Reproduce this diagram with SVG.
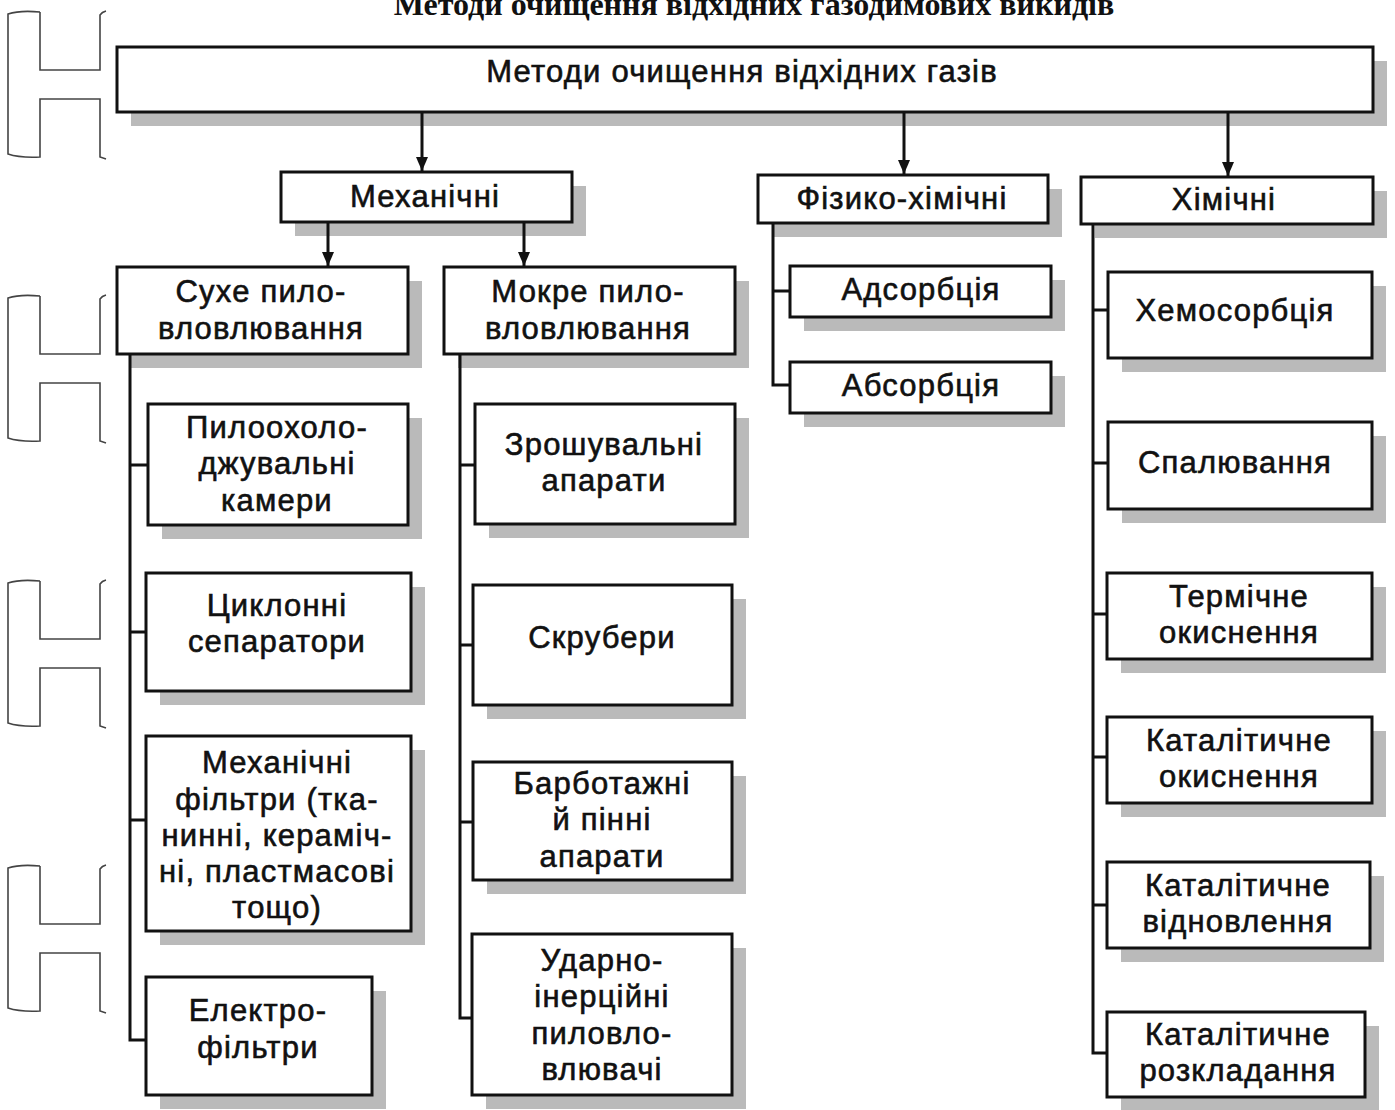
<svg xmlns="http://www.w3.org/2000/svg" width="1395" height="1110" viewBox="0 0 1395 1110">
<defs>
<style>
.box{fill:#fff;stroke:#111;stroke-width:3}
.sh{fill:#bababa}
.t{font-family:"Liberation Sans",Arial,sans-serif;font-size:31px;letter-spacing:1.2px;fill:#111;stroke:#111;stroke-width:0.6;text-anchor:middle}
.title{font-family:"Liberation Serif","Times New Roman",serif;font-size:32px;font-weight:bold;fill:#111;text-anchor:middle}
.ln{fill:none;stroke:#111;stroke-width:3}
.bm{fill:none;stroke:#444;stroke-width:1.6}
</style>
<marker id="arr" viewBox="0 0 14 12" refX="14" refY="6" markerWidth="14" markerHeight="12" markerUnits="userSpaceOnUse" orient="auto">
<path d="M0,0 L14,6 L0,12 Z" fill="#111"/>
</marker>
<g id="bmark">
<path d="M40,0 Q20,-2 8,2 L8,142 Q20,146 40,145 L40,87 L100,87 L100,145 Q103,146 106,147"/>
<path d="M40,0 L40,58 L100,58 L100,3 Q102,0 106,-1"/>
</g>
</defs>
<rect width="1395" height="1110" fill="#fff"/>

<text class="title" x="754" y="15">Методи очищення відхідних газодимових викидів</text>

<g id="binding-marks" class="bm">
<use href="#bmark" x="0" y="12"/>
<use href="#bmark" x="0" y="296"/>
<use href="#bmark" x="0" y="581"/>
<use href="#bmark" x="0" y="866"/>
</g>

<g id="shadows">
<rect class="sh" x="131" y="61" width="1256" height="65"/>
<rect class="sh" x="295" y="186" width="291" height="50"/>
<rect class="sh" x="772" y="189" width="290" height="48"/>
<rect class="sh" x="1095" y="191" width="292" height="47"/>
<rect class="sh" x="131" y="281" width="291" height="87"/>
<rect class="sh" x="458" y="281" width="291" height="87"/>
<rect class="sh" x="804" y="280" width="261" height="51"/>
<rect class="sh" x="804" y="376" width="261" height="51"/>
<rect class="sh" x="1122" y="286" width="264" height="86"/>
<rect class="sh" x="1122" y="436" width="264" height="87"/>
<rect class="sh" x="1121" y="587" width="265" height="86"/>
<rect class="sh" x="1121" y="731" width="265" height="86"/>
<rect class="sh" x="1121" y="876" width="263" height="86"/>
<rect class="sh" x="1121" y="1026" width="258" height="84"/>
<rect class="sh" x="162" y="418" width="260" height="121"/>
<rect class="sh" x="160" y="587" width="265" height="118"/>
<rect class="sh" x="160" y="750" width="265" height="195"/>
<rect class="sh" x="160" y="991" width="226" height="118"/>
<rect class="sh" x="489" y="418" width="260" height="120"/>
<rect class="sh" x="487" y="599" width="259" height="120"/>
<rect class="sh" x="487" y="776" width="259" height="118"/>
<rect class="sh" x="486" y="948" width="260" height="161"/>
</g>

<g id="connectors" class="ln">
<line x1="422" y1="112" x2="422" y2="171" marker-end="url(#arr)"/>
<line x1="904" y1="112" x2="904" y2="174" marker-end="url(#arr)"/>
<line x1="1228" y1="112" x2="1228" y2="176" marker-end="url(#arr)"/>
<line x1="328" y1="222" x2="328" y2="266" marker-end="url(#arr)"/>
<line x1="524" y1="222" x2="524" y2="266" marker-end="url(#arr)"/>
<path d="M130,354 L130,1040 L146,1040 M130,465 L148,465 M130,632 L146,632 M130,820 L146,820"/>
<path d="M460,354 L460,1018 L472,1018 M460,465 L475,465 M460,645 L473,645 M460,822 L473,822"/>
<path d="M773,224 L773,385 L790,385 M773,291 L790,291"/>
<path d="M1093,224 L1093,1053 L1107,1053 M1093,310 L1108,310 M1093,463 L1108,463 M1093,614 L1107,614 M1093,757 L1107,757 M1093,905 L1107,905"/>
</g>

<g id="n-root"><rect class="box" x="117" y="47" width="1256" height="65"/><text class="t" x="742" y="82">Методи очищення відхідних газів</text></g>
<g id="n-mech"><rect class="box" x="281" y="172" width="291" height="50"/><text class="t" x="425" y="207">Механічні</text></g>
<g id="n-phys"><rect class="box" x="758" y="175" width="290" height="48"/><text class="t" x="902" y="209">Фізико-хімічні</text></g>
<g id="n-chem"><rect class="box" x="1081" y="177" width="292" height="47"/><text class="t" x="1224" y="210">Хімічні</text></g>
<g id="n-dry"><rect class="box" x="117" y="267" width="291" height="87"/><text class="t" x="261" y="302">Сухе пило-</text><text class="t" x="261" y="339">вловлювання</text></g>
<g id="n-wet"><rect class="box" x="444" y="267" width="291" height="87"/><text class="t" x="588" y="302">Мокре пило-</text><text class="t" x="588" y="339">вловлювання</text></g>
<g id="n-ads"><rect class="box" x="790" y="266" width="261" height="51"/><text class="t" x="921" y="300">Адсорбція</text></g>
<g id="n-abs"><rect class="box" x="790" y="362" width="261" height="51"/><text class="t" x="921" y="396">Абсорбція</text></g>
<g id="n-chemo"><rect class="box" x="1108" y="272" width="264" height="86"/><text class="t" x="1235" y="321">Хемосорбція</text></g>
<g id="n-burn"><rect class="box" x="1108" y="422" width="264" height="87"/><text class="t" x="1235" y="473">Спалювання</text></g>
<g id="n-therm"><rect class="box" x="1107" y="573" width="265" height="86"/><text class="t" x="1239" y="607">Термічне</text><text class="t" x="1239" y="643">окиснення</text></g>
<g id="n-catox"><rect class="box" x="1107" y="717" width="265" height="86"/><text class="t" x="1239" y="751">Каталітичне</text><text class="t" x="1239" y="787">окиснення</text></g>
<g id="n-catred"><rect class="box" x="1107" y="862" width="263" height="86"/><text class="t" x="1238" y="896">Каталітичне</text><text class="t" x="1238" y="932">відновлення</text></g>
<g id="n-catdec"><rect class="box" x="1107" y="1012" width="258" height="85"/><text class="t" x="1238" y="1045">Каталітичне</text><text class="t" x="1238" y="1081">розкладання</text></g>
<g id="n-dustcool"><rect class="box" x="148" y="404" width="260" height="121"/><text class="t" x="277" y="438">Пилоохоло-</text><text class="t" x="277" y="474">джувальні</text><text class="t" x="277" y="511">камери</text></g>
<g id="n-cyclone"><rect class="box" x="146" y="573" width="265" height="118"/><text class="t" x="277" y="616">Циклонні</text><text class="t" x="277" y="652">сепаратори</text></g>
<g id="n-mfilter"><rect class="box" x="146" y="736" width="265" height="195"/><text class="t" x="277" y="773">Механічні</text><text class="t" x="277" y="810">фільтри (тка-</text><text class="t" x="277" y="846">нинні, кераміч-</text><text class="t" x="277" y="882">ні, пластмасові</text><text class="t" x="277" y="918">тощо)</text></g>
<g id="n-electro"><rect class="box" x="146" y="977" width="226" height="118"/><text class="t" x="258" y="1021">Електро-</text><text class="t" x="258" y="1058">фільтри</text></g>
<g id="n-spray"><rect class="box" x="475" y="404" width="260" height="120"/><text class="t" x="604" y="455">Зрошувальні</text><text class="t" x="604" y="491">апарати</text></g>
<g id="n-scrub"><rect class="box" x="473" y="585" width="259" height="120"/><text class="t" x="602" y="648">Скрубери</text></g>
<g id="n-bubble"><rect class="box" x="473" y="762" width="259" height="118"/><text class="t" x="602" y="794">Барботажні</text><text class="t" x="602" y="830">й пінні</text><text class="t" x="602" y="867">апарати</text></g>
<g id="n-impact"><rect class="box" x="472" y="934" width="260" height="161"/><text class="t" x="602" y="971">Ударно-</text><text class="t" x="602" y="1007">інерційні</text><text class="t" x="602" y="1044">пиловло-</text><text class="t" x="602" y="1080">влювачі</text></g>
</svg>
